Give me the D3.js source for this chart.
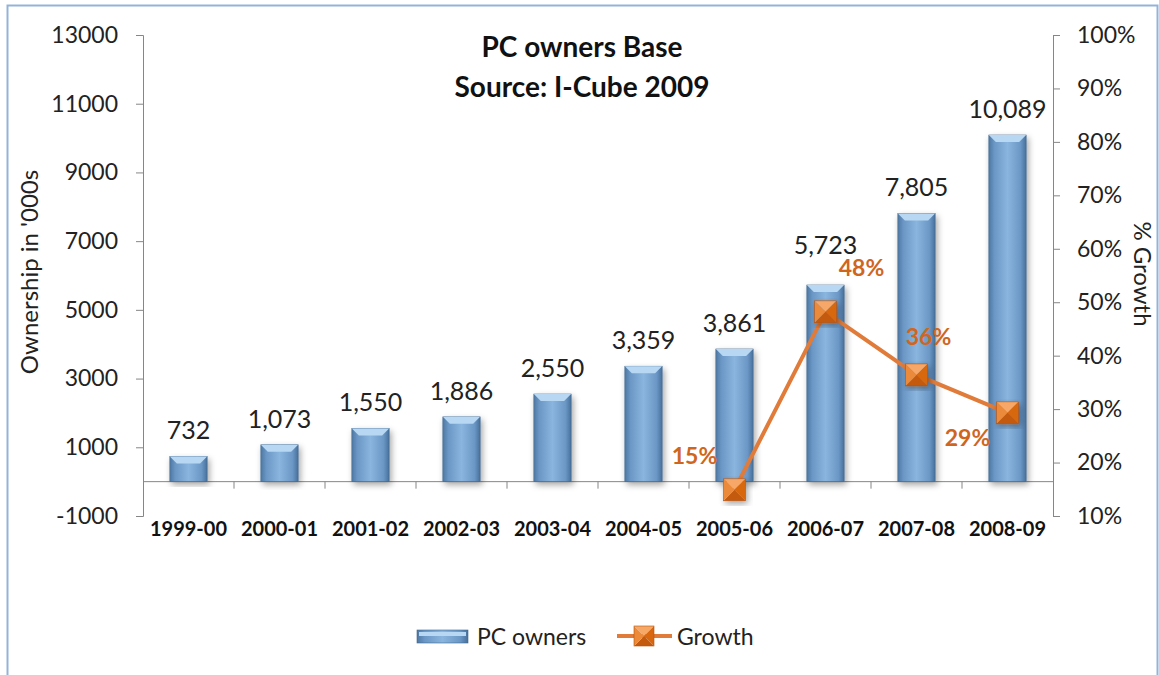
<!DOCTYPE html>
<html lang="en">
<head>
<meta charset="UTF-8">
<script src="https://d3js.org/d3.v7.min.js"></script>
<title>PC owners Base</title>
<style>
  body { margin: 0; background: #fff; }
  svg text { font-family: Lato, "Open Sans", sans-serif; }
</style>
</head>
<body>
<svg id="chart" width="1159" height="675"></svg>
<script>
var years = ["1999-00", "2000-01", "2001-02", "2002-03", "2003-04", "2004-05", "2005-06", "2006-07", "2007-08", "2008-09"];
var owners = [732, 1073, 1550, 1886, 2550, 3359, 3861, 5723, 7805, 10089];
var growthYears = ["2005-06", "2006-07", "2007-08", "2008-09"];
var growth = [0.149, 0.482, 0.364, 0.293];
var leftTicks = [-1000, 1000, 3000, 5000, 7000, 9000, 11000, 13000];
var rightTicks = [0.1, 0.2, 0.3, 0.4, 0.5, 0.6, 0.7, 0.8, 0.9, 1.0];

var svg = d3.select("#chart");
var plotLeft = 143, plotRight = 1053, plotTop = 35, plotBottom = 516;
var labelOrange = "#d0661e", axisGrey = "#868686";

// outer frame
svg.append("rect").attr("x", 7.5).attr("y", 5.5).attr("width", 1150).attr("height", 700)
    .attr("fill", "none").attr("stroke", "#95b3d7").attr("stroke-width", 2);

var defs = svg.append("defs");
var grad = defs.append("linearGradient").attr("id", "barGrad").attr("x1", 0).attr("x2", 1).attr("y1", 0).attr("y2", 0);
grad.append("stop").attr("offset", "0%").attr("stop-color", "#4f78a3");
grad.append("stop").attr("offset", "15%").attr("stop-color", "#6b97c6");
grad.append("stop").attr("offset", "50%").attr("stop-color", "#8ab5de");
grad.append("stop").attr("offset", "85%").attr("stop-color", "#6b97c6");
grad.append("stop").attr("offset", "100%").attr("stop-color", "#476f9a");
var shadow = defs.append("filter").attr("id", "shadow").attr("x", "-30%").attr("y", "-10%").attr("width", "160%").attr("height", "130%");
shadow.append("feDropShadow").attr("dx", 2).attr("dy", 3).attr("stdDeviation", 3).attr("flood-color", "#000").attr("flood-opacity", 0.35);

var x = d3.scaleBand().domain(years).range([plotLeft, plotRight]).paddingInner(0.59).paddingOuter(0.295);
var yL = d3.scaleLinear().domain([-1000, 13000]).range([plotBottom, plotTop]);
var yR = d3.scaleLinear().domain([0.1, 1.0]).range([plotBottom, plotTop]);
var bw = x.bandwidth();
var step = x.step();

// title
var title = svg.append("text").attr("text-anchor", "middle")
    .attr("font-size", 28).attr("font-weight", "bold").attr("fill", "#111");
title.append("tspan").attr("x", 582).attr("y", 57).text("PC owners Base");
title.append("tspan").attr("x", 582).attr("y", 97).text("Source: I-Cube 2009");

// left axis
var gL = svg.append("g").attr("transform", "translate(" + plotLeft + ",0)")
    .call(d3.axisLeft(yL).tickValues(leftTicks).tickSize(7).tickPadding(18)
        .tickFormat(function(d) { return String(d); }));
gL.selectAll("text").attr("font-size", 23).attr("fill", "#222").style("font-family", "Lato, sans-serif");
gL.selectAll("line, path").attr("stroke", axisGrey);

// right axis
var gR = svg.append("g").attr("transform", "translate(" + plotRight + ",0)")
    .call(d3.axisRight(yR).tickValues(rightTicks).tickSize(7).tickPadding(17).tickFormat(d3.format(".0%")));
gR.selectAll("text").attr("font-size", 23).attr("fill", "#222").style("font-family", "Lato, sans-serif");
gR.selectAll("line, path").attr("stroke", axisGrey);

// axis titles
svg.append("text").attr("transform", "translate(38,272) rotate(-90)")
    .attr("text-anchor", "middle").attr("font-size", 24).attr("fill", "#222").text("Ownership in '000s");
svg.append("text").attr("transform", "translate(1134,274) rotate(90)")
    .attr("text-anchor", "middle").attr("font-size", 24).attr("fill", "#222").text("% Growth");

// zero line with category separators
var zeroY = yL(0);
svg.append("line").attr("x1", plotLeft).attr("x2", plotRight).attr("y1", zeroY).attr("y2", zeroY).attr("stroke", axisGrey);
svg.selectAll(".sep").data(d3.range(1, years.length)).join("line")
    .attr("x1", function(i) { return plotLeft + i * step; })
    .attr("x2", function(i) { return plotLeft + i * step; })
    .attr("y1", zeroY).attr("y2", zeroY + 7).attr("stroke", axisGrey);

// category labels
var gX = svg.append("g").attr("transform", "translate(0," + plotBottom + ")")
    .call(d3.axisBottom(x).tickSize(0).tickPadding(6));
gX.select(".domain").remove();
gX.selectAll("text").attr("font-size", 20).attr("font-weight", "bold").attr("fill", "#111")
    .style("font-family", "Lato, sans-serif");

// bars
var bars = svg.append("g").selectAll("g").data(years).join("g");
bars.append("rect")
    .attr("x", function(d) { return x(d); })
    .attr("y", function(d, i) { return yL(owners[i]); })
    .attr("width", bw)
    .attr("height", function(d, i) { return zeroY - yL(owners[i]); })
    .attr("fill", "url(#barGrad)")
    .attr("stroke", "#3e6890").attr("stroke-width", 0.6)
    .attr("filter", "url(#shadow)");
bars.append("path")
    .attr("d", function(d, i) {
        var x0 = x(d), y0 = yL(owners[i]), b = 7;
        return "M" + x0 + "," + y0 + "L" + (x0 + bw) + "," + y0 + "L" + (x0 + bw - b) + "," + (y0 + b) + "L" + (x0 + b) + "," + (y0 + b) + "Z";
    })
    .attr("fill", "#b7d7f2");
// the 2006-07 label sits higher to clear the growth label
bars.append("text")
    .attr("x", function(d) { return x(d) + bw / 2; })
    .attr("y", function(d, i) { return yL(owners[i]) - (d === "2006-07" ? 31 : 17); })
    .attr("text-anchor", "middle").attr("font-size", 25).attr("fill", "#222")
    .text(function(d, i) { return d3.format(",")(owners[i]); });

// growth line
var gx = function(d) { return x(d) + bw / 2; };
var line = d3.line().x(function(d, i) { return gx(growthYears[i]); }).y(function(d) { return yR(d); });
svg.append("path").datum(growth).attr("d", line).attr("fill", "none")
    .attr("stroke", "#e07b39").attr("stroke-width", 4);

function marker(g, cx, cy, s) {
    var h = s / 2;
    var faces = [
        [[cx - h, cy - h], [cx + h, cy - h], [cx, cy], "#f7a867"],
        [[cx + h, cy - h], [cx + h, cy + h], [cx, cy], "#d86710"],
        [[cx + h, cy + h], [cx - h, cy + h], [cx, cy], "#c45a0d"],
        [[cx - h, cy + h], [cx - h, cy - h], [cx, cy], "#ec8a3a"]
    ];
    faces.forEach(function(f) {
        g.append("path").attr("d", "M" + f[0] + "L" + f[1] + "L" + f[2] + "Z").attr("fill", f[3]);
    });
    g.append("rect").attr("x", cx - h).attr("y", cy - h).attr("width", s).attr("height", s)
        .attr("fill", "none").attr("stroke", "#b5520b").attr("stroke-width", 0.6);
}

var labelShift = [[-40, -26], [36, -36], [12, -30], [-40, 33]];
growth.forEach(function(v, i) {
    var cx = gx(growthYears[i]), cy = yR(v);
    var g = svg.append("g").attr("filter", "url(#shadow)");
    marker(g, cx, cy, 22);
    svg.append("text").attr("x", cx + labelShift[i][0]).attr("y", cy + labelShift[i][1])
        .attr("text-anchor", "middle").attr("font-size", 23).attr("font-weight", "bold")
        .attr("fill", labelOrange).text(d3.format(".0%")(v));
});

// legend
var lg = svg.append("g");
lg.append("rect").attr("x", 417).attr("y", 630).attr("width", 51).attr("height", 13)
    .attr("fill", "url(#barGrad)").attr("stroke", "#3e6890").attr("stroke-width", 0.6);
lg.append("rect").attr("x", 419).attr("y", 632).attr("width", 47).attr("height", 4).attr("fill", "#b7d7f2");
lg.append("text").attr("x", 477).attr("y", 645).attr("font-size", 23).attr("fill", "#222").text("PC owners");
lg.append("line").attr("x1", 617).attr("x2", 672).attr("y1", 636).attr("y2", 636)
    .attr("stroke", "#e07b39").attr("stroke-width", 4);
marker(lg, 644, 636, 20);
lg.append("text").attr("x", 677).attr("y", 645).attr("font-size", 23).attr("fill", "#222").text("Growth");
</script>
</body>
</html>
